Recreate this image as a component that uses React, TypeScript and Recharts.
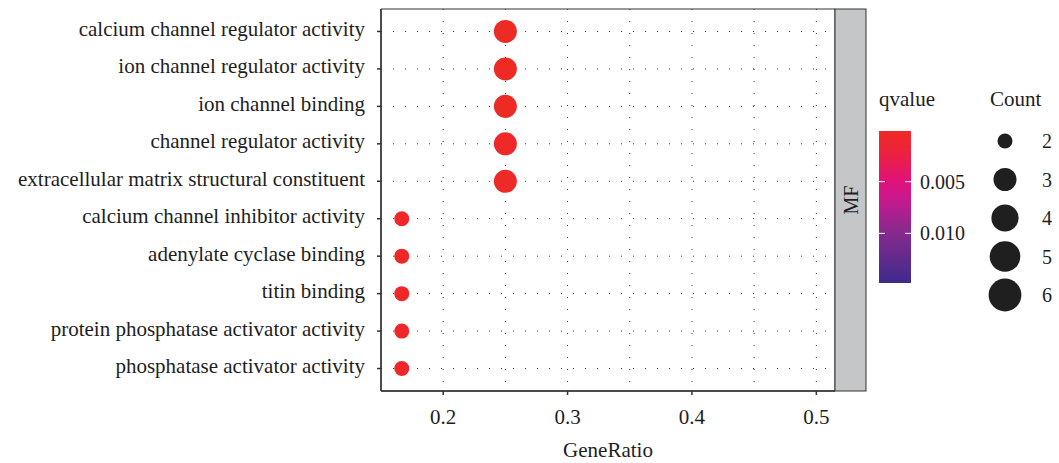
import React from 'react';
import {
  ScatterChart,
  Scatter,
  XAxis,
  YAxis,
  CartesianGrid,
  ReferenceArea,
} from 'recharts';

// GO terms, top to bottom
const terms = [
  'calcium channel regulator activity',
  'ion channel regulator activity',
  'ion channel binding',
  'channel regulator activity',
  'extracellular matrix structural constituent',
  'calcium channel inhibitor activity',
  'adenylate cyclase binding',
  'titin binding',
  'protein phosphatase activator activity',
  'phosphatase activator activity',
];
const geneRatio = [0.25, 0.25, 0.25, 0.25, 0.25, 0.1667, 0.1667, 0.1667, 0.1667, 0.1667];
const counts = [3, 3, 3, 3, 3, 2, 2, 2, 2, 2];
const qvalues = [0.0002, 0.0002, 0.0002, 0.0003, 0.0004, 0.0005, 0.0005, 0.0005, 0.0006, 0.0006];

const xTicks = [0.2, 0.3, 0.4, 0.5];
const xGridBreaks = [0.2, 0.25, 0.3, 0.35, 0.4, 0.45, 0.5];
const qTicks = [0.005, 0.01];
const countLegend = [2, 3, 4, 5, 6];

const X_DOMAIN: [number, number] = [0.15, 0.515];
const Y_DOMAIN: [number, number] = [0.4, 10.6];
const Q_LIMITS: [number, number] = [0.0001, 0.0148];
const FONT = '"Liberation Serif", "Times New Roman", serif';
const INK = '#1e1e1e';

// low q (red) -> high q (blue)
const GRADIENT = [
  [0, '#ee2a24'],
  [0.15, '#ec2140'],
  [0.33, '#e0127a'],
  [0.45, '#c8188e'],
  [0.65, '#8a2a8f'],
  [0.85, '#5f2b8c'],
  [1, '#3c2b8d'],
] as const;

const RADIUS: Record<number, number> = { 2: 7.5, 3: 11.5, 4: 13.6, 5: 15.3, 6: 16.4 };

const hex = (c: string) => [1, 3, 5].map((i) => parseInt(c.slice(i, i + 2), 16));

const qColor = (q: number) => {
  const t = Math.min(1, Math.max(0, (q - Q_LIMITS[0]) / (Q_LIMITS[1] - Q_LIMITS[0])));
  for (let i = 1; i < GRADIENT.length; i++) {
    const [t1, c1] = GRADIENT[i];
    const [t0, c0] = GRADIENT[i - 1];
    if (t <= t1) {
      const f = (t - t0) / (t1 - t0);
      const a = hex(c0);
      const b = hex(c1);
      return `rgb(${a.map((v, k) => Math.round(v + (b[k] - v) * f)).join(',')})`;
    }
  }
  return GRADIENT[GRADIENT.length - 1][1];
};

const rows = terms.map((term, i) => ({
  term,
  row: terms.length - i,
  ratio: geneRatio[i],
  count: counts[i],
  q: qvalues[i],
}));

const Dot = (props: any) => {
  const { cx, cy, payload } = props;
  if (cx == null || cy == null) return null;
  return <circle cx={cx} cy={cy} r={RADIUS[payload.count]} fill={qColor(payload.q)} />;
};

const TermTick = (props: any) => {
  const { x, y, payload } = props;
  return (
    <text x={x} y={y} dy={4.5} textAnchor="end" fontSize={21} fontFamily={FONT} fill={INK}>
      {terms[terms.length - payload.value]}
    </text>
  );
};

// legends + facet strip
const Extras = () => {
  const barTop = 131;
  const barBottom = 283;
  const barX = 879;
  const barW = 32;
  const qToY = (q: number) =>
    barTop + ((q - Q_LIMITS[0]) / (Q_LIMITS[1] - Q_LIMITS[0])) * (barBottom - barTop);
  return (
    <svg
      width={1059}
      height={463}
      style={{ position: 'absolute', left: 0, top: 0, pointerEvents: 'none' }}
      fontFamily={FONT}
    >
      <defs>
        <linearGradient id="qgrad" x1="0" y1="0" x2="0" y2="1">
          {GRADIENT.map(([o, c]) => (
            <stop key={o} offset={o} stopColor={c} />
          ))}
        </linearGradient>
      </defs>
      {/* facet strip */}
      <rect x={835} y={9} width={31} height={382} fill="#c5c6c8" stroke="#333" strokeWidth={1} />
      <text
        x={851}
        y={200}
        transform="rotate(-90 851 200)"
        textAnchor="middle"
        dominantBaseline="central"
        fontSize={20}
        fill={INK}
      >
        MF
      </text>

      {/* qvalue colourbar */}
      <text x={879} y={106} fontSize={21} fill={INK}>
        qvalue
      </text>
      <rect x={barX} y={barTop} width={barW} height={barBottom - barTop} fill="url(#qgrad)" />
      {qTicks.map((q) => (
        <g key={q}>
          <line x1={barX} x2={barX + 6} y1={qToY(q)} y2={qToY(q)} stroke="#fff" strokeWidth={1} />
          <line
            x1={barX + barW - 6}
            x2={barX + barW}
            y1={qToY(q)}
            y2={qToY(q)}
            stroke="#fff"
            strokeWidth={1}
          />
          <text x={920} y={qToY(q)} dominantBaseline="central" fontSize={20} fill={INK}>
            {q.toFixed(3)}
          </text>
        </g>
      ))}

      {/* Count size legend */}
      <text x={990} y={106} fontSize={21} fill={INK}>
        Count
      </text>
      {countLegend.map((c, i) => (
        <g key={c}>
          <circle cx={1005} cy={141 + i * 38.5} r={RADIUS[c]} fill="#1f1f1f" />
          <text x={1042} y={141 + i * 38.5} dominantBaseline="central" fontSize={20} fill={INK}>
            {c}
          </text>
        </g>
      ))}
    </svg>
  );
};

export default function App() {
  return (
    <div
      style={{
        position: 'absolute',
        left: 0,
        top: 0,
        width: 1059,
        height: 463,
        background: '#fff',
        fontFamily: FONT,
      }}
    >
      <ScatterChart width={1059} height={463} margin={{ top: 9, right: 224, bottom: 0, left: 0 }}>
        <CartesianGrid
          horizontalValues={rows.map((r) => r.row)}
          verticalValues={xGridBreaks}
          stroke="#333"
          strokeWidth={1}
          strokeDasharray="1 11"
        />
        <XAxis
          type="number"
          dataKey="ratio"
          domain={X_DOMAIN}
          allowDataOverflow
          ticks={xTicks}
          interval={0}
          tickFormatter={(v: number) => v.toFixed(1)}
          height={72}
          tickSize={4}
          tickMargin={14}
          stroke="#333"
          strokeWidth={1.5}
          tick={{ fill: INK, fontSize: 21, fontFamily: FONT }}
          label={{
            value: 'GeneRatio',
            position: 'insideBottom',
            offset: 6,
            fill: INK,
            fontSize: 21,
            fontFamily: FONT,
          }}
        />
        <YAxis
          type="number"
          dataKey="row"
          domain={Y_DOMAIN}
          allowDataOverflow
          ticks={rows.map((r) => r.row)}
          interval={0}
          width={381}
          tickSize={4}
          tickMargin={12}
          stroke="#333"
          strokeWidth={1.5}
          tick={<TermTick />}
        />
        <ReferenceArea
          x1={X_DOMAIN[0]}
          x2={X_DOMAIN[1]}
          y1={Y_DOMAIN[0]}
          y2={Y_DOMAIN[1]}
          fill="none"
          stroke="#333"
          strokeWidth={1}
          ifOverflow="visible"
        />
        <Scatter data={rows} shape={Dot} isAnimationActive={false} />
      </ScatterChart>
      <Extras />
    </div>
  );
}
